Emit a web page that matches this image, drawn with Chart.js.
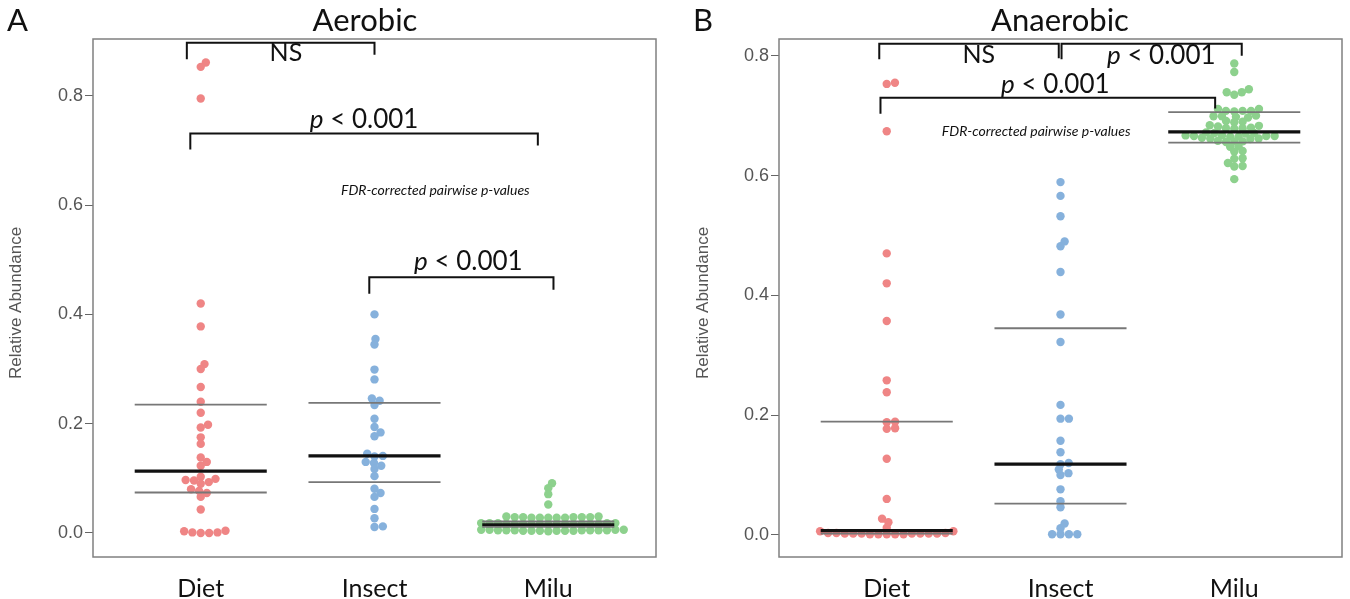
<!DOCTYPE html>
<html>
<head>
<meta charset="utf-8">
<script src="https://cdn.jsdelivr.net/npm/chart.js@4.4.1/dist/chart.umd.min.js"></script>
<style>
  html, body { margin: 0; padding: 0; background: #fff; }
  #wrap { position: relative; width: 1350px; height: 599px; overflow: hidden; }
  .panel { position: absolute; top: 0; }
</style>
</head>
<body>
<div id="wrap">
  <div class="panel" style="left:0px"><canvas id="aerobic" width="670" height="599"></canvas></div>
  <div class="panel" style="left:670px"><canvas id="anaerobic" width="680" height="599"></canvas></div>
</div>
<script>
var groups = ['Diet', 'Insect', 'Milu'];
var yTicks = [0, 0.2, 0.4, 0.6, 0.8];

// Aerobic relative abundance
var aerobicDiet = [0.861, 0.853, 0.795, 0.420, 0.378, 0.309, 0.300, 0.267, 0.240, 0.220, 0.198, 0.193,
    0.175, 0.163, 0.138, 0.130, 0.123, 0.103, 0.099, 0.097, 0.096, 0.093, 0.090, 0.080, 0.077, 0.073,
    0.066, 0.043, 0.004, 0.003, 0.001, 0.000, 0.000, 0.001];
var aerobicInsect = [0.400, 0.355, 0.345, 0.299, 0.281, 0.246, 0.242, 0.234, 0.209, 0.194, 0.184, 0.177,
    0.145, 0.141, 0.140, 0.130, 0.128, 0.123, 0.117, 0.104, 0.081, 0.073, 0.066, 0.044, 0.027, 0.012, 0.011];
var aerobicMilu = [0.091, 0.082, 0.071, 0.052,
    0.028, 0.029, 0.028, 0.029, 0.030, 0.028, 0.029, 0.028, 0.030, 0.029, 0.028, 0.029,
    0.017, 0.018, 0.017, 0.016, 0.018, 0.017, 0.018, 0.016, 0.017, 0.018, 0.017, 0.016, 0.016, 0.017,
    0.018, 0.017, 0.016,
    0.005, 0.004, 0.006, 0.005, 0.004, 0.005, 0.006, 0.004, 0.005, 0.006, 0.004, 0.005, 0.003, 0.004,
    0.005, 0.006, 0.004, 0.005];
var aerobicMedian = [0.113, 0.141, 0.015];
var aerobicQ1 = [0.074, 0.093, 0.011];
var aerobicQ3 = [0.235, 0.238, 0.021];

// Anaerobic relative abundance
var anaerobicDiet = [0.753, 0.755, 0.674, 0.470, 0.420, 0.357, 0.258, 0.238, 0.189, 0.188, 0.178, 0.177,
    0.127, 0.060, 0.027, 0.021, 0.012,
    0.006, 0.003, 0.002, 0.002, 0.001, 0.002, 0.001, 0.002, 0.003, 0.001, 0.002, 0.001, 0.002, 0.003,
    0.002, 0.001, 0.006];
var anaerobicInsect = [0.589, 0.566, 0.532, 0.490, 0.482, 0.439, 0.368, 0.322, 0.217, 0.194, 0.194, 0.157,
    0.138, 0.120, 0.118, 0.109, 0.103, 0.100, 0.076, 0.056, 0.046, 0.019, 0.011, 0.001, 0.001, 0.001, 0.001];
var anaerobicMilu = [0.787, 0.773, 0.744, 0.739, 0.739, 0.735,
    0.711, 0.711, 0.708, 0.708, 0.708, 0.707,
    0.700, 0.699, 0.698, 0.699, 0.697,
    0.690, 0.691, 0.689, 0.684, 0.682, 0.683,
    0.679, 0.680, 0.678, 0.679, 0.672, 0.671, 0.670, 0.671,
    0.666, 0.667, 0.665, 0.666, 0.665, 0.667, 0.666,
    0.662, 0.661, 0.663, 0.662, 0.657, 0.656, 0.658, 0.657,
    0.649, 0.648, 0.641, 0.640, 0.629, 0.628, 0.621, 0.616, 0.615, 0.594];
var anaerobicMedian = [0.007, 0.118, 0.673];
var anaerobicQ1 = [0.002, 0.052, 0.655];
var anaerobicQ3 = [0.189, 0.345, 0.706];

var colors = ['#ef8585', '#86b1dc', '#8dd18d'];
var halfWidth = 0.38;
var dotW = 8.4;
var dotH = 5.5;

// beeswarm: each point goes as near the centre as it can without hitting the ones below it
function swarm(values, center, xs, ys) {
    var cx = xs.getPixelForValue(center);
    var order = values.map(function (v, i) { return i; }).sort(function (a, b) { return values[a] - values[b]; });
    var placed = [];
    var out = [];
    order.forEach(function (i) {
        var py = ys.getPixelForValue(values[i]);
        var cands = [0];
        placed.forEach(function (p) {
            var t = Math.abs(p.y - py) / dotH;
            if (t < 1) {
                var dx = dotW * Math.sqrt(1 - t * t);
                cands.push(p.x + dx, p.x - dx);
            }
        });
        cands.sort(function (a, b) { return (Math.abs(a) - Math.abs(b)) || (b - a); });
        var x = cands.find(function (c) {
            return placed.every(function (p) {
                var u = (p.x - c) / dotW, w = (p.y - py) / dotH;
                return u * u + w * w >= 0.999;
            });
        });
        placed.push({x: x, y: py});
        out[i] = {x: xs.getValueForPixel(cx + x), y: values[i]};
    });
    return out;
}

function drawPText(ctx, x, y, size) {
    var rest = ' < 0.001';
    ctx.font = 'italic ' + size + 'px Lato';
    var wp = ctx.measureText('p').width;
    ctx.font = size + 'px Lato';
    var wr = ctx.measureText(rest).width;
    var left = x - (wp + wr) / 2;
    ctx.textAlign = 'left';
    ctx.font = 'italic ' + size + 'px Lato';
    ctx.fillText('p', left, y);
    ctx.font = size + 'px Lato';
    ctx.fillText(rest, left + wp, y);
}

var decor = {
    id: 'decor',
    afterDraw: function (chart, args, opts) {
        var ctx = chart.ctx;
        var xs = chart.scales.x, ys = chart.scales.y;
        var a = chart.chartArea;
        ctx.save();
        ctx.strokeStyle = '#808080';
        ctx.lineWidth = 1.5;
        ctx.strokeRect(a.left, a.top, a.right - a.left, a.bottom - a.top);

        ctx.fillStyle = '#111';
        ctx.textBaseline = 'middle';
        ctx.textAlign = 'center';
        ctx.font = '31px Lato';
        ctx.fillText(opts.title, opts.titleX, 21);
        ctx.textAlign = 'left';
        ctx.fillText(opts.letter, opts.letterX, 21);

        ctx.save();
        ctx.translate(opts.yTitleX, 303);
        ctx.rotate(-Math.PI / 2);
        ctx.textAlign = 'center';
        ctx.fillStyle = '#555';
        ctx.font = '17px "Liberation Sans"';
        ctx.fillText('Relative Abundance', 0, 0);
        ctx.restore();

        ctx.strokeStyle = '#111';
        ctx.lineWidth = 2;
        opts.brackets.forEach(function (b) {
            ctx.beginPath();
            ctx.moveTo(xs.getPixelForValue(b.x1), ys.getPixelForValue(b.y1));
            ctx.lineTo(xs.getPixelForValue(b.x1), ys.getPixelForValue(b.y));
            ctx.lineTo(xs.getPixelForValue(b.x2), ys.getPixelForValue(b.y));
            ctx.lineTo(xs.getPixelForValue(b.x2), ys.getPixelForValue(b.y2));
            ctx.stroke();
        });
        ctx.fillStyle = '#111';
        opts.labels.forEach(function (l) {
            var px = xs.getPixelForValue(l.x), py = ys.getPixelForValue(l.y);
            if (l.text === 'p') {
                drawPText(ctx, px, py, 26);
            } else {
                ctx.textAlign = 'center';
                ctx.font = '25px Lato';
                ctx.fillText(l.text, px, py);
            }
        });
        ctx.font = 'italic 14px Lato';
        ctx.textAlign = 'center';
        ctx.fillText('FDR-corrected pairwise p-values', xs.getPixelForValue(opts.note.x), ys.getPixelForValue(opts.note.y));
        ctx.restore();
    }
};

function makeChart(id, series, medians, q1, q3, yMin, yMax, yWidth, padRight, decorOpts) {
    var datasets = [];
    series.forEach(function (vals, g) {
        datasets.push({
            type: 'scatter',
            label: groups[g],
            data: vals.map(function (v) { return {x: g + 1, y: v}; }),
            backgroundColor: colors[g],
            borderWidth: 0,
            pointRadius: 4.2,
            order: 2
        });
    });
    [[q1, '#777', 1.8], [q3, '#777', 1.8], [medians, '#111', 3.2]].forEach(function (s) {
        s[0].forEach(function (v, g) {
            datasets.push({
                type: 'line',
                data: [{x: g + 1 - halfWidth, y: v}, {x: g + 1 + halfWidth, y: v}],
                borderColor: s[1],
                borderWidth: s[2],
                pointRadius: 0,
                order: 1
            });
        });
    });

    var chart = new Chart(document.getElementById(id), {
        type: 'scatter',
        data: {datasets: datasets},
        options: {
            responsive: false,
            animation: false,
            layout: {padding: {top: 39, right: padRight, left: 0, bottom: 0}},
            plugins: {legend: {display: false}, tooltip: {enabled: false}, decor: decorOpts},
            scales: {
                x: {
                    type: 'linear', min: 0.38, max: 3.62,
                    grid: {display: false}, border: {display: false},
                    afterBuildTicks: function (s) { s.ticks = [{value: 1}, {value: 2}, {value: 3}]; },
                    afterFit: function (s) { s.height = 42; },
                    ticks: {
                        padding: 9, color: '#111', font: {family: 'Lato', size: 25},
                        callback: function (v, i) { return groups[i]; }
                    }
                },
                y: {
                    min: yMin, max: yMax,
                    grid: {drawOnChartArea: false, drawTicks: true, tickLength: 8, color: '#666'},
                    border: {display: false},
                    afterBuildTicks: function (s) { s.ticks = yTicks.map(function (v) { return {value: v}; }); },
                    afterFit: function (s) { s.width = yWidth; },
                    ticks: {
                        padding: 2, color: '#555', font: {family: 'Liberation Sans', size: 18},
                        callback: function (v) { return v.toFixed(1); }
                    }
                }
            }
        },
        plugins: [decor]
    });

    series.forEach(function (vals, g) {
        chart.data.datasets[g].data = swarm(vals, g + 1, chart.scales.x, chart.scales.y);
    });
    chart.update('none');
    return chart;
}

makeChart('aerobic', [aerobicDiet, aerobicInsect, aerobicMilu], aerobicMedian, aerobicQ1, aerobicQ3,
    -0.044, 0.904, 93, 14, {
        title: 'Aerobic', titleX: 365, letter: 'A', letterX: 7, yTitleX: 16,
        brackets: [
            {x1: 0.92, x2: 2.0, y: 0.897, y1: 0.867, y2: 0.875},
            {x1: 0.94, x2: 2.94, y: 0.731, y1: 0.702, y2: 0.709},
            {x1: 1.97, x2: 3.03, y: 0.468, y1: 0.438, y2: 0.445}
        ],
        labels: [
            {text: 'NS', x: 1.49, y: 0.878},
            {text: 'p', x: 1.94, y: 0.756},
            {text: 'p', x: 2.54, y: 0.497}
        ],
        note: {x: 2.35, y: 0.626}
    });

makeChart('anaerobic', [anaerobicDiet, anaerobicInsect, anaerobicMilu], anaerobicMedian, anaerobicQ1, anaerobicQ3,
    -0.037, 0.828, 109, 8, {
        title: 'Anaerobic', titleX: 390, letter: 'B', letterX: 23, yTitleX: 33,
        brackets: [
            {x1: 0.957, x2: 1.99, y: 0.820, y1: 0.794, y2: 0.796},
            {x1: 2.006, x2: 3.043, y: 0.820, y1: 0.794, y2: 0.800},
            {x1: 0.964, x2: 2.89, y: 0.730, y1: 0.703, y2: 0.712}
        ],
        labels: [
            {text: 'NS', x: 1.53, y: 0.801},
            {text: 'p', x: 2.58, y: 0.801},
            {text: 'p', x: 1.97, y: 0.752}
        ],
        note: {x: 1.86, y: 0.673}
    });
</script>
</body>
</html>
